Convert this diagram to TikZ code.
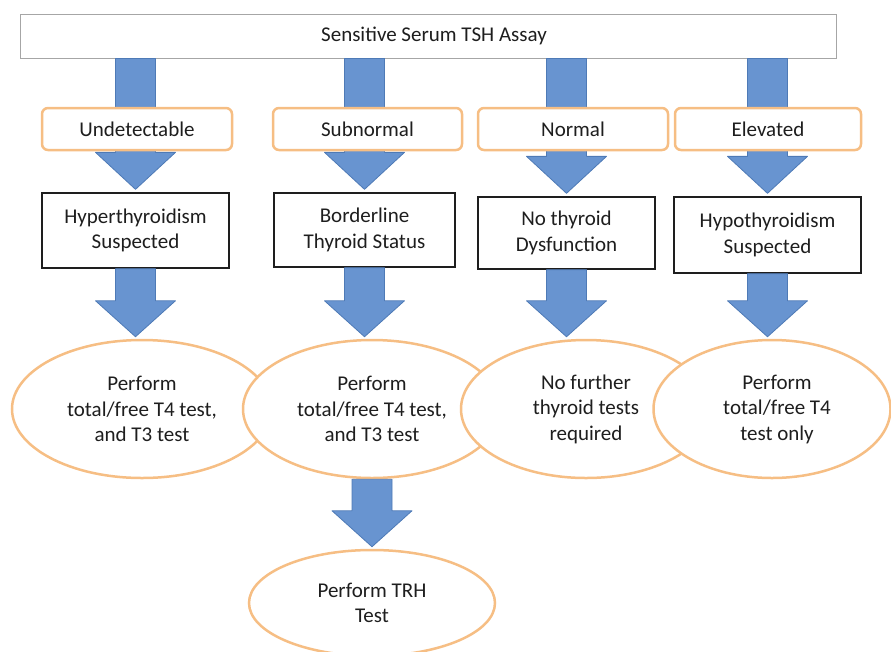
\documentclass[tikz,border=0pt]{standalone}
\usepackage{fontspec}
\setmainfont{Carlito}
\usepackage{tikz}
\usetikzlibrary{shapes.geometric,calc}
\definecolor{arrowblue}{RGB}{104,148,208}
\definecolor{arrowedge}{RGB}{78,122,182}
\definecolor{peach}{RGB}{246,190,132}
\definecolor{ink}{RGB}{30,30,30}

\begin{document}
\begin{tikzpicture}[x=1pt,y=-1pt,
    every node/.style={font=\fontsize{21}{25.5}\selectfont,text=ink,align=center,inner sep=0pt},
    headbox/.style={draw=gray!70,line width=0.8pt,fill=white,minimum width=816,minimum height=44},
    levelbox/.style={draw=peach,line width=2.5pt,fill=white,rounded corners=6pt,minimum height=42},
    statebox/.style={draw=ink,line width=1.3pt,fill=white},
    testoval/.style={ellipse,draw=peach,line width=2.5pt,fill=white,minimum height=138}]
    \useasboundingbox (0,0) rectangle (891,651);
    % assay and outcome boxes
    \node[headbox] (tsh) at (428,36) {\hspace*{12pt}Sensitive Serum TSH Assay};
    \node[statebox,minimum width=187,minimum height=75] (hyper) at (135.5,230.5) {Hyperthyroidism\\Suspected};
    \node[statebox,minimum width=181,minimum height=74] (border) at (364.5,230) {Borderline\\Thyroid Status};
    \node[statebox,minimum width=177,minimum height=72] (nodys) at (566.5,233) {No thyroid\\Dysfunction};
    \node[statebox,minimum width=187,minimum height=76] (hypo) at (767.5,235) {Hypothyroidism\\Suspected};
    % block arrows
    \foreach \src/\dst in {tsh.south -| hyper.north/hyper.north,
                           tsh.south -| border.north/border.north,
                           tsh.south -| nodys.north/nodys.north,
                           tsh.south -| hypo.north/hypo.north}
        \filldraw[fill=arrowblue,draw=arrowedge,line width=0.8pt,line join=round]
            ($(\src)+(-20,0)$) -- ($(\dst)+(-20,-40)$) -- ($(\dst)+(-40,-40)$) --
            ($(\dst)+(0,-3)$) -- ($(\dst)+(40,-40)$) -- ($(\dst)+(20,-40)$) --
            ($(\src)+(20,0)$) -- cycle;
    % TSH levels
    \node[levelbox,minimum width=190] (undet) at (137,129) {Undetectable};
    \node[levelbox,minimum width=189] (subn) at (367.5,129) {Subnormal};
    \node[levelbox,minimum width=190] (norm) at (573,129) {Normal};
    \node[levelbox,minimum width=186] (elev) at (768,129) {Elevated};
    % follow-up tests
    \node[testoval,minimum width=260] (pf1) at (142,409) {Perform\\total/free T4 test,\\and T3 test};
    \node[testoval,minimum width=258] (pf2) at (372,409) {Perform\\total/free T4 test,\\and T3 test};
    \node[testoval,minimum width=250] (nofur) at (586,409) {No further\\thyroid tests\\required};
    \node[testoval,minimum width=237] (pf4) at (772,409) {\hspace*{10pt}Perform\\\hspace*{10pt}total/free T4\\\hspace*{10pt}test only};
    \node[testoval,minimum width=246,minimum height=106] (trh) at (372,603) {Perform TRH\\Test};
    \foreach \src/\dst in {hyper.south/hyper.south |- pf1.north,
                           border.south/border.south |- pf2.north,
                           nodys.south/nodys.south |- nofur.north,
                           hypo.south/hypo.south |- pf4.north,
                           pf2.south/trh.north}
        \filldraw[fill=arrowblue,draw=arrowedge,line width=0.8pt,line join=round]
            ($(\src)+(-20,0)$) -- ($(\dst)+(-20,-38)$) -- ($(\dst)+(-40,-38)$) --
            ($(\dst)+(0,-2)$) -- ($(\dst)+(40,-38)$) -- ($(\dst)+(20,-38)$) --
            ($(\src)+(20,0)$) -- cycle;
\end{tikzpicture}
\end{document}
